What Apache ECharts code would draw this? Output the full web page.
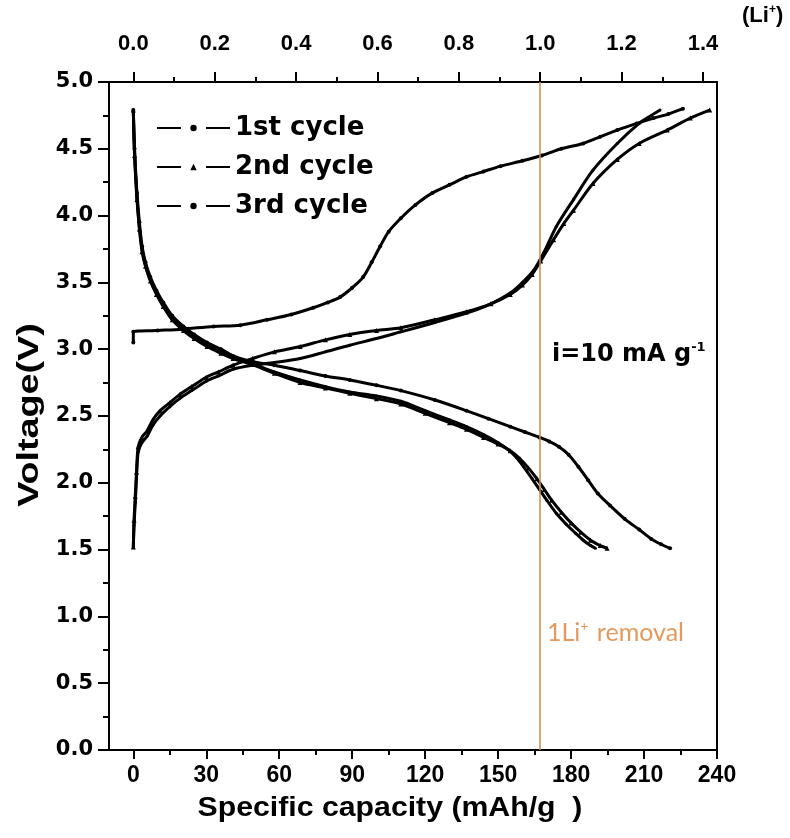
<!DOCTYPE html>
<html>
<head>
<meta charset="utf-8">
<script src="https://cdn.jsdelivr.net/npm/echarts@6/dist/echarts.min.js"></script>
<style>html,body{margin:0;padding:0;background:#fff}#chart{width:790px;height:838px}</style>
</head>
<body>
<div id="chart"></div>
<script>
// [specific capacity (mAh/g), voltage (V)]
var charge1 = [[0,3.05],[0,3.13],[10,3.14],[20,3.15],[33,3.17],[44,3.18],[55,3.22],[65,3.26],[74,3.31],[80,3.35],[85,3.39],[90,3.46],[94.5,3.54],[98,3.65],[101.5,3.77],[105,3.88],[110,3.98],[116,4.08],[123,4.17],[130,4.23],[137,4.29],[144,4.33],[151,4.37],[160,4.41],[168,4.45],[176,4.5],[185,4.54],[192,4.59],[199,4.64],[207,4.69],[214,4.73],[220,4.76],[226,4.8]];
var discharge1 = [[0,4.79],[0.5,4.5],[1.5,4.17],[2.5,3.95],[3.6,3.77],[5,3.65],[7,3.54],[9.5,3.44],[12.3,3.35],[16,3.25],[20.6,3.17],[25,3.11],[30.3,3.05],[36,3.0],[41,2.95],[48,2.91],[58,2.88],[68.6,2.84],[79,2.8],[89,2.77],[100,2.73],[110,2.69],[124,2.62],[137,2.54],[146,2.48],[155,2.42],[161,2.38],[167,2.34],[171,2.31],[175,2.27],[179,2.21],[183,2.12],[187,2.02],[191,1.92],[196,1.83],[202,1.73],[208,1.65],[213,1.58],[217,1.54],[220.7,1.51]];
var charge2 = [[0,1.52],[0.3,1.72],[0.8,1.9],[1.3,2.08],[2,2.27],[3.5,2.34],[5.7,2.39],[8,2.47],[11,2.54],[15,2.6],[19,2.66],[24,2.72],[30,2.79],[35,2.83],[41,2.88],[49,2.93],[58,2.98],[68.6,3.02],[79,3.07],[89,3.11],[100,3.14],[110,3.16],[124,3.22],[137,3.28],[147,3.34],[155,3.41],[160,3.48],[164,3.56],[167.5,3.66],[172.8,3.82],[177,3.94],[181,4.04],[189,4.24],[199,4.42],[208,4.54],[219.5,4.64],[229,4.73],[237,4.79]];
var discharge2 = [[0,4.79],[0.5,4.45],[1.5,4.12],[2.5,3.9],[3.6,3.73],[5,3.62],[7,3.51],[9.5,3.41],[12.3,3.32],[16,3.22],[20.6,3.14],[25,3.08],[30.3,3.02],[36,2.97],[41,2.93],[48,2.89],[58,2.82],[68.6,2.75],[79,2.71],[89,2.67],[100,2.63],[110,2.59],[120,2.52],[130,2.45],[137,2.4],[144,2.34],[150,2.29],[155,2.24],[159,2.18],[162.5,2.11],[166,2.03],[169,1.95],[172,1.87],[176,1.78],[180,1.7],[184,1.63],[188,1.57],[192,1.53],[194.8,1.51]];
var charge3 = [[0,1.52],[0.3,1.68],[0.8,1.85],[1.3,2.03],[2,2.23],[3.5,2.3],[5.7,2.35],[8,2.43],[11,2.5],[15,2.57],[19,2.63],[24,2.69],[30,2.76],[35,2.8],[41,2.85],[49,2.88],[58,2.9],[68.6,2.93],[79,2.98],[89,3.03],[100,3.08],[110,3.13],[124,3.2],[137,3.27],[147,3.34],[155,3.42],[160,3.5],[164.6,3.59],[168.7,3.72],[174,3.92],[181,4.12],[189,4.34],[199,4.54],[208,4.69],[213,4.75],[216.6,4.79]];
var discharge3 = [[0,4.79],[0.5,4.48],[1.5,4.14],[2.5,3.92],[3.6,3.75],[5,3.63],[7,3.52],[9.5,3.42],[12.3,3.33],[16,3.23],[20.6,3.15],[25,3.09],[30.3,3.03],[36,2.98],[41,2.94],[48,2.9],[58,2.83],[68.6,2.77],[79,2.72],[89,2.68],[100,2.65],[110,2.61],[120,2.54],[130,2.47],[137,2.42],[144,2.36],[150,2.3],[154,2.25],[157.5,2.19],[160.5,2.12],[164,2.03],[167,1.95],[170,1.87],[174,1.77],[178,1.69],[182,1.62],[185,1.57],[188,1.53],[190,1.51]];

var cycleNames = ['1st cycle', '2nd cycle', '3rd cycle'];
var capTicks = [0, 30, 60, 90, 120, 150, 180, 210, 240];
var capMinor = [15, 45, 75, 105, 135, 165, 195, 225];
var liTicks = [0, 0.2, 0.4, 0.6, 0.8, 1.0, 1.2, 1.4];
var liMinor = [0.1, 0.3, 0.5, 0.7, 0.9, 1.1, 1.3];
var liCapacity = 167.3;   // mAh/g for one Li+
var capMin = -10, capMax = 240;

var chart = echarts.init(document.getElementById('chart'));

var black = '#000';
function line(name, data, symbol, size) {
    return {
        name: name,
        type: 'line',
        data: data,
        symbol: symbol,
        symbolSize: size,
        smooth: 0.3,
        lineStyle: {color: black, width: 3},
        itemStyle: {color: black},
        silent: true
    };
}

var series = [
    line(cycleNames[0], charge1, 'circle', 4),
    line(cycleNames[0], discharge1, 'circle', 4),
    line(cycleNames[1], charge2, 'triangle', 5),
    line(cycleNames[1], discharge2, 'triangle', 5),
    line(cycleNames[2], charge3, 'circle', 3),
    line(cycleNames[2], discharge3, 'circle', 3)
];
series[0].markLine = {
    silent: true,
    symbol: ['none', 'none'],
    label: {show: false},
    lineStyle: {color: '#d08a48', width: 1.5, type: 'solid'},
    data: [{xAxis: liCapacity}]
};

var option = {
    animation: false,
    backgroundColor: '#fff',
    grid: {left: 109, right: 73, top: 82, bottom: 88, show: true, borderColor: black, borderWidth: 2},
    legend: {
        data: cycleNames,
        orient: 'vertical',
        left: 156,
        top: 115,
        padding: 0,
        itemWidth: 73,
        itemHeight: 8,
        itemGap: 13,
        lineStyle: {type: [24, 25], width: 2},
        textStyle: {fontFamily: 'DejaVu Sans', fontWeight: 'bold', fontSize: 26, color: black}
    },
    xAxis: [
        {
            type: 'value', position: 'bottom', min: capMin, max: capMax,
            axisLine: {show: true, onZero: false, lineStyle: {color: black, width: 2}},
            axisTick: {show: true, inside: false, length: 9, customValues: capTicks, lineStyle: {color: black, width: 2}},
            axisLabel: {customValues: capTicks, margin: 14, color: black, fontFamily: 'Liberation Sans Narrow, Liberation Sans', fontWeight: 'bold', fontSize: 23},
            splitLine: {show: false}
        },
        {
            type: 'value', position: 'bottom', min: capMin, max: capMax,
            axisLine: {show: false, onZero: false},
            axisTick: {show: true, length: 5, customValues: capMinor, lineStyle: {color: black, width: 2}},
            axisLabel: {show: false},
            splitLine: {show: false}
        },
        {
            type: 'value', position: 'top', min: capMin / liCapacity, max: capMax / liCapacity,
            axisLine: {show: true, onZero: false, lineStyle: {color: black, width: 2}},
            axisTick: {show: true, length: 10, customValues: liTicks, lineStyle: {color: black, width: 2}},
            axisLabel: {customValues: liTicks, margin: 27, color: black, fontFamily: 'Liberation Sans', fontWeight: 'bold', fontSize: 22,
                formatter: function (v) { return v.toFixed(1); }},
            splitLine: {show: false}
        },
        {
            type: 'value', position: 'top', min: capMin / liCapacity, max: capMax / liCapacity,
            axisLine: {show: false, onZero: false},
            axisTick: {show: true, length: 5, customValues: liMinor, lineStyle: {color: black, width: 2}},
            axisLabel: {show: false},
            splitLine: {show: false}
        }
    ],
    yAxis: {
        type: 'value', min: 0, max: 5, interval: 0.5,
        axisLine: {show: true, onZero: false, lineStyle: {color: black, width: 2}},
        axisTick: {show: true, length: 11, lineStyle: {color: black, width: 2}},
        minorTick: {show: true, splitNumber: 2, length: 6, lineStyle: {color: black, width: 2}},
        axisLabel: {margin: 16, color: black, fontFamily: 'DejaVu Sans', fontWeight: 'bold', fontSize: 21,
            formatter: function (v) { return v.toFixed(1); }},
        splitLine: {show: false}
    },
    graphic: [
        {type: 'text', x: 30, y: 415, rotation: Math.PI / 2, scaleX: 1.3,
            style: {text: 'Voltage(V)', fill: black, font: 'bold 29px "Liberation Sans"', align: 'center', verticalAlign: 'middle'}},
        {type: 'text', x: 390, y: 808, scaleX: 1.08,
            style: {text: 'Specific capacity (mAh/g  )', fill: black, font: 'bold 28px "Liberation Sans"', align: 'center', verticalAlign: 'middle'}},
        {type: 'text', x: 742, y: 16,
            style: {text: '(Li{s|+})', fill: black, font: 'bold 22px "Liberation Sans"', verticalAlign: 'middle',
                rich: {s: {fontSize: 12, fontWeight: 'bold', fontFamily: 'Liberation Sans', padding: [0, 0, 12, 0]}}}},
        {type: 'text', x: 552, y: 355,
            style: {text: 'i=10 mA g{s|-1}', fill: black, font: 'bold 24px "DejaVu Sans"', verticalAlign: 'middle',
                rich: {s: {fontSize: 13, fontWeight: 'bold', fontFamily: 'DejaVu Sans', padding: [0, 0, 14, 0]}}}},
        {type: 'text', x: 547, y: 633,
            style: {text: '1Li{s|+} removal', fill: '#e49a5c', font: '25px Lato', verticalAlign: 'middle',
                rich: {s: {fontSize: 14, fontFamily: 'Lato', fill: '#e49a5c', padding: [0, 2, 13, 0]}}}}
    ],
    series: series
};

chart.setOption(option);
</script>
</body>
</html>
